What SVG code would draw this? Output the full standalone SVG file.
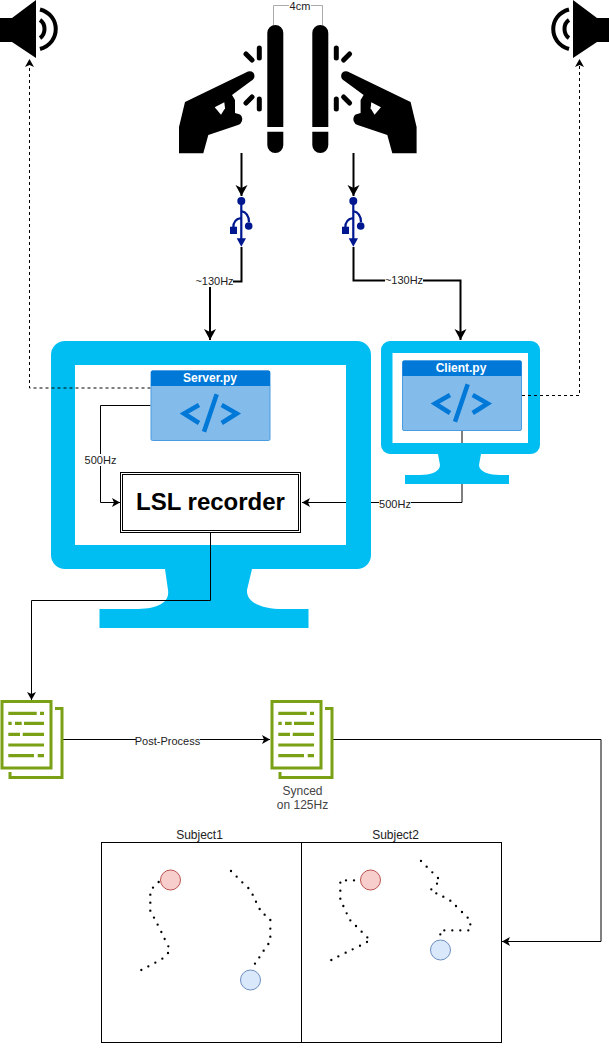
<svg xmlns="http://www.w3.org/2000/svg" xmlns:xlink="http://www.w3.org/1999/xlink" width="609" height="1061" viewBox="0 0 609 1061">
<style>
text{font-family:"Liberation Sans",Arial,sans-serif;font-size:11px;fill:#222;text-anchor:middle}
.c{fill:none;stroke:#000;stroke-width:1}
.t{fill:none;stroke:#000;stroke-width:2}
.d{fill:none;stroke:#000;stroke-width:1;stroke-dasharray:3 3}
.mon{fill:#00bef2;fill-rule:evenodd}
.hdr{fill:#0078d7}
.bdy{fill:#83bbeb;stroke:#4b9be0;stroke-width:1}
.code{fill:none;stroke:#0078d7;stroke-width:4.5}
.ray{fill:none;stroke:#000;stroke-width:5;stroke-linecap:round}
.doc{fill:none;stroke:#7aa116;stroke-width:3}
.ln{fill:none;stroke:#7aa116;stroke-width:3.2}
.usb{fill:none;stroke:#00188f;stroke-width:2.2}
.usbf{fill:#00188f}
.dots{fill:none;stroke:#000;stroke-width:7;stroke-linecap:round}
.sp{fill:none;stroke:#000;stroke-width:4}
.lbl{fill:#fff}
</style>
<defs>
<marker id="a" markerUnits="userSpaceOnUse" markerWidth="12" markerHeight="10" refX="8" refY="4.5" orient="auto"><path d="M0,0L8,4.5L0,9L2,4.5Z" fill="#000"/></marker>
<marker id="b" markerUnits="userSpaceOnUse" markerWidth="14" markerHeight="14" refX="11" refY="6.5" orient="auto"><path d="M0,0.5L11,6.5L0,12.5L3,6.5Z" fill="#000"/></marker>
<g id="speaker"><path d="M0,18H12L36,0V58L12,42H0Z" fill="#000"/><path class="sp" d="M40,9.500C61,15,61,43,40,49"/><path class="sp" d="M40,20C46,24,46,34,40,38"/></g>
<g id="hand">
<path d="M185,102L248,71.500Q254,70.500 254.500,76Q254.500,79 251,81L232,95L235,100L235,113L240,114.500Q243,117 242,121Q241,124 238,125L208.300,135L203.300,153.300H179V127Z" fill="#000"/>
<path d="M214.700,107.300L224.300,102.300L225,108.300L221,114.700Z" fill="#fff"/>
<path class="ray" d="M246,54L252,60M259.300,48V58M246,103L252,97M259.300,99V109"/>
<path d="M267.300,33a8,8 0 0 1 16,0V127H267.300ZM267.300,131.700H283.300V145a8,8 0 0 1 -16,0Z" fill="#000"/>
</g>
<g id="usbicon">
<circle class="usbf" cx="241.300" cy="201" r="4"/>
<path class="usb" d="M241.300,201V240M241.300,211Q249,213 249,222M241.300,218Q233,219 233.300,228"/>
<circle class="usbf" cx="248.700" cy="226" r="3.800"/>
<rect class="usbf" x="230" y="226.700" width="7" height="7.300"/>
<path class="usbf" d="M236.700,238.300H246L241.300,246.700Z"/>
</g>
<g id="sheet">
<rect class="doc" x="2" y="701.500" width="49" height="66.500"/>
<path class="doc" d="M55,708.500H62V777.500H10V772"/>
<path class="ln" d="M8.300,713.300H36.700M40,713.300H44M8.300,723.300H11.700M15,723.300H21.700M24,723.300H44M8.300,734.300H20M22.700,734.300H44M8.300,745H44M8.300,755.700H34M37.700,755.700H44"/>
</g>
<g id="code">
<path class="code" d="M199,405L184,413.500L199,423M216.700,394.300L204,431.700M221.700,405L236.700,413.500L221.700,423"/>
</g>
</defs>

<g id="speaker-left"><use xlink:href="#speaker" href="#speaker"/></g>
<g id="speaker-right"><use xlink:href="#speaker" href="#speaker" transform="translate(609,0) scale(-1,1)"/></g>

<g id="hands"><use href="#hand"/><use href="#hand" transform="translate(595.600,0) scale(-1,1)"/></g>

<g id="usb-left"><use href="#usbicon"/></g>
<g id="usb-right"><use href="#usbicon" transform="translate(112,0)"/></g>

<g id="connectors-behind">
<path class="c" d="M462,430V502.500H302" marker-end="url(#a)"/>
</g>

<g id="monitor-server">
<path class="mon" d="M65,341H357a14,14 0 0 1 14,14V555a14,14 0 0 1 -14,14H252L247,590C246,604 265,609 282,609H308.500V628H99.500V609H135C155,609 170,604 168,590L165,569H65a14,14 0 0 1 -14,-14V355a14,14 0 0 1 14,-14ZM75,365V545H346V365Z"/>
</g>
<g id="monitor-client">
<path class="mon" d="M390,341H531a9,9 0 0 1 9,9V445a9,9 0 0 1 -9,9H481L479,465C479,472 490,475 500,475H509V484H405V475H420C430,475 440,472 440,465L438,454H390a9,9 0 0 1 -9,-9V350a9,9 0 0 1 9,-9ZM392.500,353V443H528V353Z"/>
</g>

<g id="connectors">
<path class="c" d="M273.500,25V5.500H322.500V25" style="stroke:#aaa"/>
<path class="t" d="M241.500,153V196" marker-end="url(#b)"/>
<path class="t" d="M353.500,153V196" marker-end="url(#b)"/>
<path class="t" d="M241.500,247V281.500H210V340" marker-end="url(#b)"/>
<path class="t" d="M353.500,247V280.500H460.500V340" marker-end="url(#b)"/>
<path class="d" d="M150.500,388H29.500V59" marker-end="url(#a)"/>
<path class="d" d="M522,395.500H579.500V59" marker-end="url(#a)"/>
<path class="c" d="M150.500,405.500H100.500V502.500H120" marker-end="url(#a)"/>
<path class="c" d="M210.500,533V600.500H31.500V700" marker-end="url(#a)"/>
<path class="c" d="M62,739.500H270" marker-end="url(#a)"/>
<path class="c" d="M333,739.500H601V941.500H502" marker-end="url(#a)"/>
</g>

<g id="labels">
<rect class="lbl" x="289" y="0" width="22" height="11"/><text x="300" y="10">4cm</text>
<rect class="lbl" x="196" y="275" width="37" height="12"/><text x="214.500" y="285">~130Hz</text>
<rect class="lbl" x="385" y="274" width="38" height="12"/><text x="404" y="284">~130Hz</text>
<rect class="lbl" x="85" y="454" width="31" height="12"/><text x="100.500" y="464">500Hz</text>
<rect class="lbl" x="379" y="498" width="32" height="12"/><text x="395" y="508">500Hz</text>
</g>

<g id="server">
<rect class="bdy" x="151" y="371" width="119" height="69.500" rx="1.500"/>
<path class="hdr" d="M151,372a1.500,1.500 0 0 1 1.500,-1.500H268.500a1.500,1.500 0 0 1 1.500,1.500V386H151Z"/>
<text x="210" y="382" style="font-weight:700;fill:#fff;font-size:12px">Server.py</text>
<use href="#code"/>
</g>
<g id="client">
<rect class="bdy" x="402.500" y="361" width="119" height="69.500" rx="1.500"/>
<path class="hdr" d="M402.500,362a1.500,1.500 0 0 1 1.500,-1.500H520a1.500,1.500 0 0 1 1.500,1.500V376H402.500Z"/>
<text x="461" y="372" style="font-weight:700;fill:#fff;font-size:12px">Client.py</text>
<use href="#code" transform="translate(251,-10)"/>
</g>
<g id="recorder">
<rect x="120.500" y="472.500" width="180" height="60" fill="#fff" stroke="#000"/>
<rect x="122.500" y="474.500" width="176" height="56" fill="#fff" stroke="#000"/>
<text x="210.500" y="510" style="font-size:24px;font-weight:700;fill:#000">LSL recorder</text>
</g>

<g id="doc-raw"><use href="#sheet"/></g>
<g id="doc-synced"><use href="#sheet" transform="translate(270,0)"/><text x="302.500" y="795" style="fill:#444;font-size:12px">Synced</text><text x="302.500" y="809" style="fill:#444;font-size:12px">on 125Hz</text></g>
<rect class="lbl" x="136" y="734" width="64" height="12"/><text x="167.500" y="745">Post-Process</text>

<g id="subject1">
<rect x="101.500" y="842.500" width="200" height="200" fill="none" stroke="#000"/>
<text x="199.500" y="839" style="font-size:12px">Subject1</text>
<path class="dots" transform="translate(100,825) scale(.3333)" d="M176,171h0M159,188h0M151,209h0M151,233h0M151,257h0M162,278h0M173,299h0M184,321h0M194,342h0M205,364h0M204,384h0M187,401h0M166,413h0M145,424h0M124,435h0M393,138h0M410,155h0M427,172h0M445,189h0M458,209h0M468,230h0M479,252h0M494,269h0M511,285h0M511,311h0M511,335h0M505,357h0M491,377h0M478,397h0M465,416h0"/>
<circle cx="170.500" cy="880" r="10" fill="#f8cecc" stroke="#b85450"/>
<circle cx="250.500" cy="980" r="10" fill="#dae8fc" stroke="#6c8ebf"/>
</g>
<g id="subject2">
<rect x="301.500" y="842.500" width="200" height="200" fill="none" stroke="#000"/>
<text x="395.500" y="839" style="font-size:12px">Subject2</text>
<path class="dots" transform="translate(300,825) scale(.3333)" d="M162,166h0M138,166h0M121,173h0M121,197h0M121,221h0M130,243h0M140,265h0M151,286h0M168,303h0M185,320h0M202,337h0M201,351h0M180,362h0M158,373h0M137,383h0M115,394h0M94,405h0M363,108h0M380,125h0M397,142h0M414,159h0M411,176h0M394,193h0M409,205h0M430,215h0M451,227h0M468,243h0M486,261h0M503,278h0M511,298h0M505,316h0M481,316h0M457,316h0M433,316h0M421,328h0"/>
<circle cx="370.500" cy="880" r="10" fill="#f8cecc" stroke="#b85450"/>
<circle cx="440.500" cy="950" r="10" fill="#dae8fc" stroke="#6c8ebf"/>
</g>
</svg>
